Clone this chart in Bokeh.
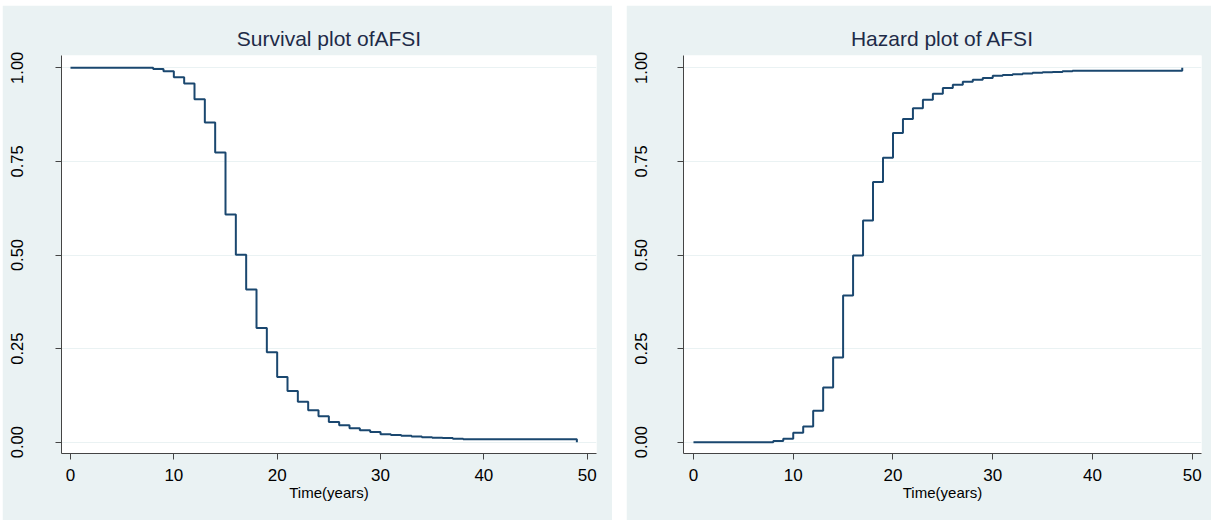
from bokeh.plotting import figure
from bokeh.models import Range1d, FixedTicker, Spacer
from bokeh.layouts import row, column
from bokeh.embed import file_html
from bokeh.resources import INLINE

# ---- data ----
times = [0, 8, 9, 10, 11, 12, 13, 14, 15, 16, 17, 18, 19, 20, 21, 22, 23, 24,
         25, 26, 27, 28, 29, 30, 31, 32, 33, 34, 35, 36, 37, 38, 49]
survival = [1.000, 0.997, 0.991, 0.975, 0.958, 0.916, 0.854, 0.774, 0.608, 0.501,
            0.408, 0.305, 0.240, 0.174, 0.137, 0.108, 0.085, 0.069, 0.054, 0.045,
            0.037, 0.032, 0.027, 0.021, 0.019, 0.017, 0.015, 0.013, 0.012, 0.011,
            0.009, 0.008, 0.000]
hazard = [0.000, 0.003, 0.009, 0.025, 0.042, 0.084, 0.146, 0.226, 0.392, 0.499,
          0.592, 0.695, 0.760, 0.826, 0.863, 0.892, 0.915, 0.931, 0.946, 0.955,
          0.963, 0.968, 0.973, 0.979, 0.981, 0.983, 0.985, 0.987, 0.988, 0.989,
          0.991, 0.992, 1.000]
x_ticks = [0, 10, 20, 30, 40, 50]
y_ticks = [0.0, 0.25, 0.5, 0.75, 1.0]
y_tick_labels = ["0.00", "0.25", "0.50", "0.75", "1.00"]
titles = ["Survival plot ofAFSI", "Hazard plot of AFSI"]
x_title = "Time(years)"

BG = "#eaf2f3"
LINE = "#1a476f"
FONT = "Liberation Sans"
Y_LO, Y_HI = -0.0302, 1.0329
TOP, FRAME_H, BOTTOM = 50, 398, 67


def make_panel(title, xs, ys, x_lo, x_hi, frame_w, border_l, border_r, y_standoff):
    p = figure(frame_width=frame_w, frame_height=FRAME_H,
               min_border_left=border_l, min_border_right=border_r,
               min_border_top=TOP, min_border_bottom=BOTTOM,
               x_range=Range1d(x_lo, x_hi), y_range=Range1d(Y_LO, Y_HI),
               output_backend="svg", toolbar_location=None,
               background_fill_color="white", border_fill_color=BG,
               outline_line_color=None)
    p.title.text = title
    p.title.align = "center"
    p.title.text_font = FONT
    p.title.text_font_size = "21px"
    p.title.text_font_style = "normal"
    p.title.text_color = "#1e2b48"
    p.title.standoff = 12

    p.step(xs, ys, mode="after", line_color=LINE, line_width=2)

    xa = p.xaxis[0]
    xa.ticker = FixedTicker(ticks=x_ticks)
    xa.axis_label = x_title
    xa.axis_label_text_font = FONT
    xa.axis_label_text_font_size = "15px"
    xa.axis_label_text_font_style = "normal"
    xa.axis_label_text_color = "black"
    xa.axis_label_standoff = 0
    xa.major_label_text_font = FONT
    xa.major_label_text_font_size = "17px"
    xa.major_label_text_color = "black"
    xa.major_label_standoff = 9
    xa.major_tick_out = 6
    xa.major_tick_in = 0
    xa.minor_tick_out = 0
    xa.minor_tick_in = 0
    xa.axis_line_color = "#444444"
    xa.major_tick_line_color = "#444444"

    ya = p.yaxis[0]
    ya.ticker = FixedTicker(ticks=y_ticks)
    ya.major_label_overrides = dict(zip(y_ticks, y_tick_labels))
    ya.major_label_orientation = "vertical"
    ya.major_label_text_font = FONT
    ya.major_label_text_font_size = "16.5px"
    ya.major_label_text_color = "black"
    ya.major_label_standoff = y_standoff
    ya.major_tick_out = 6
    ya.major_tick_in = 0
    ya.minor_tick_out = 0
    ya.minor_tick_in = 0
    ya.axis_line_color = "#444444"
    ya.major_tick_line_color = "#444444"

    p.xgrid.visible = False
    p.ygrid.ticker = FixedTicker(ticks=y_ticks)
    p.ygrid.grid_line_color = BG
    p.ygrid.grid_line_width = 1
    return p


p1 = make_panel(titles[0], times, survival, -0.87, 50.9, 535, 59, 16, 32)
p2 = make_panel(titles[1], times, hazard, -1.0, 50.93, 518, 57, 10, 30)

layout = column(Spacer(width=10, height=5),
                row(Spacer(width=2, height=10), p1,
                    Spacer(width=14, height=10), p2))
open("out.html", "w").write(file_html(layout, INLINE))
